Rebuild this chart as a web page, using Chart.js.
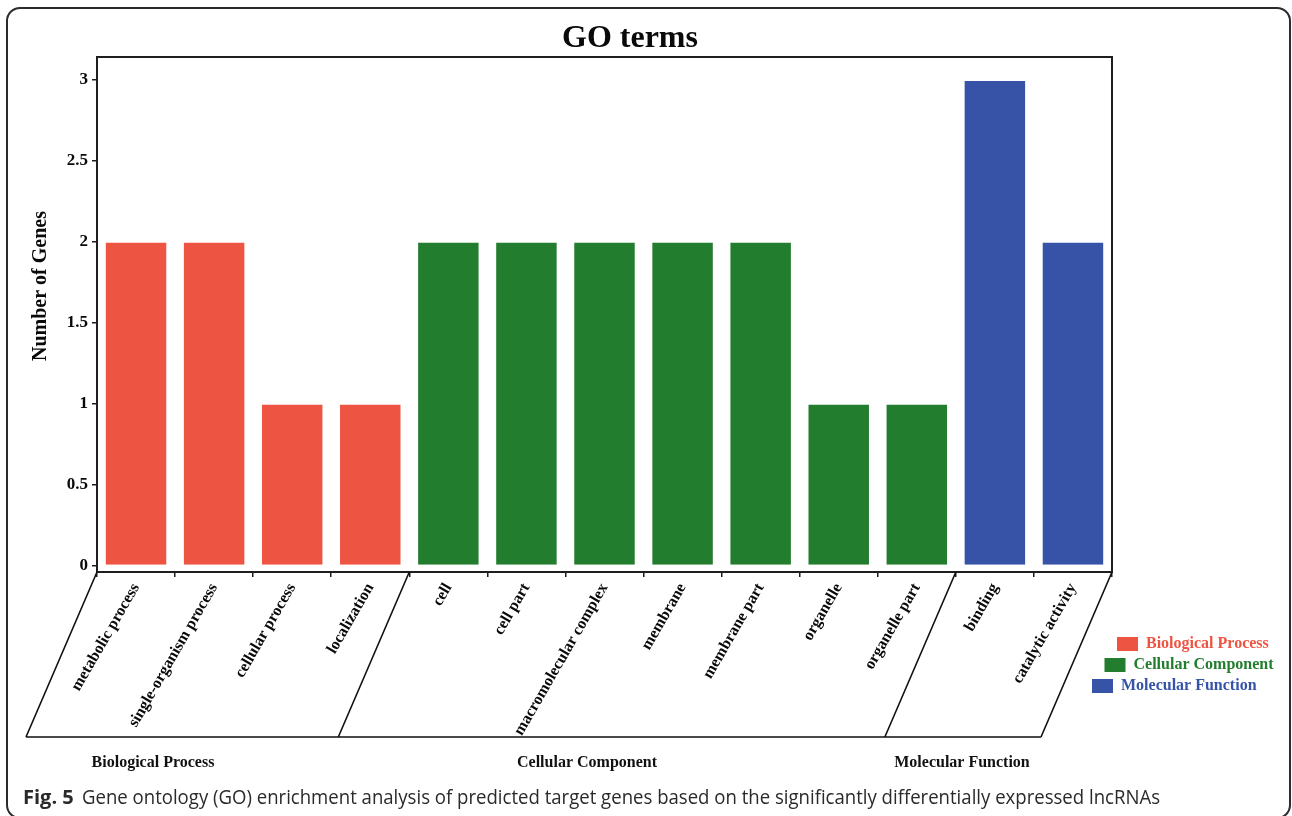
<!DOCTYPE html>
<html>
<head>
<meta charset="utf-8">
<title>GO terms</title>
<script src="https://cdn.jsdelivr.net/npm/chart.js@4.4.1/dist/chart.umd.min.js"></script>
<style>
  html, body { margin: 0; padding: 0; background: #ffffff; }
  canvas { display: block; }
</style>
</head>
<body>
<canvas id="go" width="1292" height="816"></canvas>
<script>
// GO term categories, in plotting order
const categories = [
  'metabolic process', 'single-organism process', 'cellular process', 'localization',
  'cell', 'cell part', 'macromolecular complex', 'membrane', 'membrane part', 'organelle', 'organelle part',
  'binding', 'catalytic activity'
];
// ontology groups and their colours
const groupNames = ['Biological Process', 'Cellular Component', 'Molecular Function'];
const groupColors = ['#EE5442', '#237D2E', '#3653A8'];
// number of genes per term, per group
const bioValues = [2, 2, 1, 1];
const cellValues = [2, 2, 2, 2, 2, 1, 1];
const molValues = [3, 2];
// y axis ticks
const yTickValues = [0, 0.5, 1, 1.5, 2, 2.5, 3];
const yTickLabels = ['0', '0.5', '1', '1.5', '2', '2.5', '3'];
// caption text
const captionLead = 'Fig. 5';
const captionText = 'Gene ontology (GO) enrichment analysis of predicted target genes based on the significantly differentially expressed lncRNAs';

const SERIF = '"Liberation Serif", "Times New Roman", serif';
const groupValues = [bioValues, cellValues, molValues];

// place each group's values at its own category slots
const datasets = [];
let start = 0;
groupValues.forEach((vals, g) => {
  const data = categories.map((_, i) => (i >= start && i < start + vals.length) ? vals[i - start] : null);
  datasets.push({
    label: groupNames[g],
    data: data,
    backgroundColor: groupColors[g],
    borderColor: 'rgba(255,255,255,0.55)',
    borderWidth: 1,
    barPercentage: 0.8,
    categoryPercentage: 1.0
  });
  start += vals.length;
});

// frame, titles, group brackets, legend and caption
const decorations = {
  id: 'decorations',
  beforeDraw(chart) {
    const ctx = chart.ctx;
    ctx.save();
    ctx.fillStyle = '#ffffff';
    ctx.fillRect(0, 0, chart.width, chart.height);
    ctx.restore();
  },
  afterDraw(chart) {
    const ctx = chart.ctx;
    const area = chart.chartArea;
    const xs = chart.scales.x;
    ctx.save();

    // outer rounded frame
    ctx.strokeStyle = '#2b2b2b';
    ctx.lineWidth = 2;
    ctx.beginPath();
    ctx.roundRect(7, 8, 1283, 810, 13);
    ctx.stroke();

    // plot box
    ctx.strokeStyle = '#1e1e1e';
    ctx.lineWidth = 2;
    ctx.strokeRect(area.left, area.top, area.right - area.left, area.bottom - area.top);

    // chart title
    ctx.fillStyle = '#0a0a0a';
    ctx.font = 'bold 32px ' + SERIF;
    ctx.textAlign = 'center';
    ctx.textBaseline = 'alphabetic';
    ctx.fillText('GO terms', 630, 47);

    // y axis title
    ctx.save();
    ctx.translate(41, 286);
    ctx.rotate(-Math.PI / 2);
    ctx.font = 'bold 20px ' + SERIF;
    ctx.textBaseline = 'middle';
    ctx.fillText('Number of Genes', 0, 0);
    ctx.restore();

    // slanted group brackets under the category labels
    const bottomY = 737;
    const slant = 71;
    const step = xs.getPixelForValue(1) - xs.getPixelForValue(0);
    const edges = [area.left];
    let n = 0;
    groupValues.forEach((vals, g) => {
      n += vals.length;
      edges.push(g === groupValues.length - 1 ? area.right : xs.getPixelForValue(n) - step / 2);
    });
    ctx.strokeStyle = '#111111';
    ctx.lineWidth = 1.6;
    ctx.beginPath();
    edges.forEach(x => {
      ctx.moveTo(x, area.bottom);
      ctx.lineTo(x - slant, bottomY);
    });
    ctx.moveTo(edges[0] - slant, bottomY);
    ctx.lineTo(edges[edges.length - 1] - slant, bottomY);
    ctx.stroke();

    // group names below the brackets
    const groupLabelX = [153, 587, 962];
    ctx.font = 'bold 16px ' + SERIF;
    ctx.fillStyle = '#111111';
    ctx.textAlign = 'center';
    ctx.textBaseline = 'alphabetic';
    groupNames.forEach((name, g) => ctx.fillText(name, groupLabelX[g], 767));

    // staggered legend
    ctx.textAlign = 'left';
    ctx.textBaseline = 'middle';
    ctx.font = 'bold 16px ' + SERIF;
    chart.data.datasets.forEach((ds, i) => {
      const sx = 1117 - 12.5 * i;
      const sy = 637 + 21 * i;
      ctx.fillStyle = ds.backgroundColor;
      ctx.fillRect(sx, sy, 21, 14);
      ctx.fillText(ds.label, sx + 29, sy + 7);
    });

    // figure caption
    ctx.fillStyle = '#2a2a2a';
    ctx.textBaseline = 'alphabetic';
    ctx.font = 'bold 20px "Open Sans", sans-serif';
    ctx.fillText(captionLead, 23, 804);
    ctx.font = '20px "Open Sans", sans-serif';
    const w = ctx.measureText(captionText).width;
    const sxScale = (1160 - 82) / w;
    ctx.save();
    ctx.translate(82, 804);
    ctx.scale(sxScale, 1);
    ctx.fillText(captionText, 0, 0);
    ctx.restore();

    ctx.restore();
  }
};

new Chart(document.getElementById('go'), {
  type: 'bar',
  data: { labels: categories, datasets: datasets },
  options: {
    responsive: false,
    animation: false,
    devicePixelRatio: 1,
    layout: { padding: { top: 57, right: 180, left: 0, bottom: 0 } },
    plugins: {
      legend: { display: false },
      title: { display: false },
      tooltip: { enabled: false }
    },
    scales: {
      x: {
        stacked: true,
        offset: true,
        afterFit(scale) { scale.height = 816 - 572; },
        grid: { drawOnChartArea: false, drawTicks: true, tickLength: 5, color: '#1e1e1e', lineWidth: 1.5 },
        border: { display: false },
        ticks: {
          autoSkip: false,
          minRotation: 60,
          maxRotation: 60,
          padding: 3,
          color: '#0a0a0a',
          font: { family: SERIF, size: 16, weight: 'bold' }
        }
      },
      y: {
        stacked: true,
        min: -0.04,
        max: 3.142,
        afterFit(scale) { scale.width = 97; },
        afterBuildTicks(scale) { scale.ticks = yTickValues.map(v => ({ value: v })); },
        grid: { drawOnChartArea: false, drawTicks: true, tickLength: 5, color: '#1e1e1e', lineWidth: 1.5 },
        border: { display: false },
        ticks: {
          padding: 4,
          color: '#0a0a0a',
          font: { family: SERIF, size: 17, weight: 'bold' },
          callback: (value) => {
            const i = yTickValues.indexOf(value);
            return i >= 0 ? yTickLabels[i] : '';
          }
        }
      }
    }
  },
  plugins: [decorations]
});
</script>
</body>
</html>
